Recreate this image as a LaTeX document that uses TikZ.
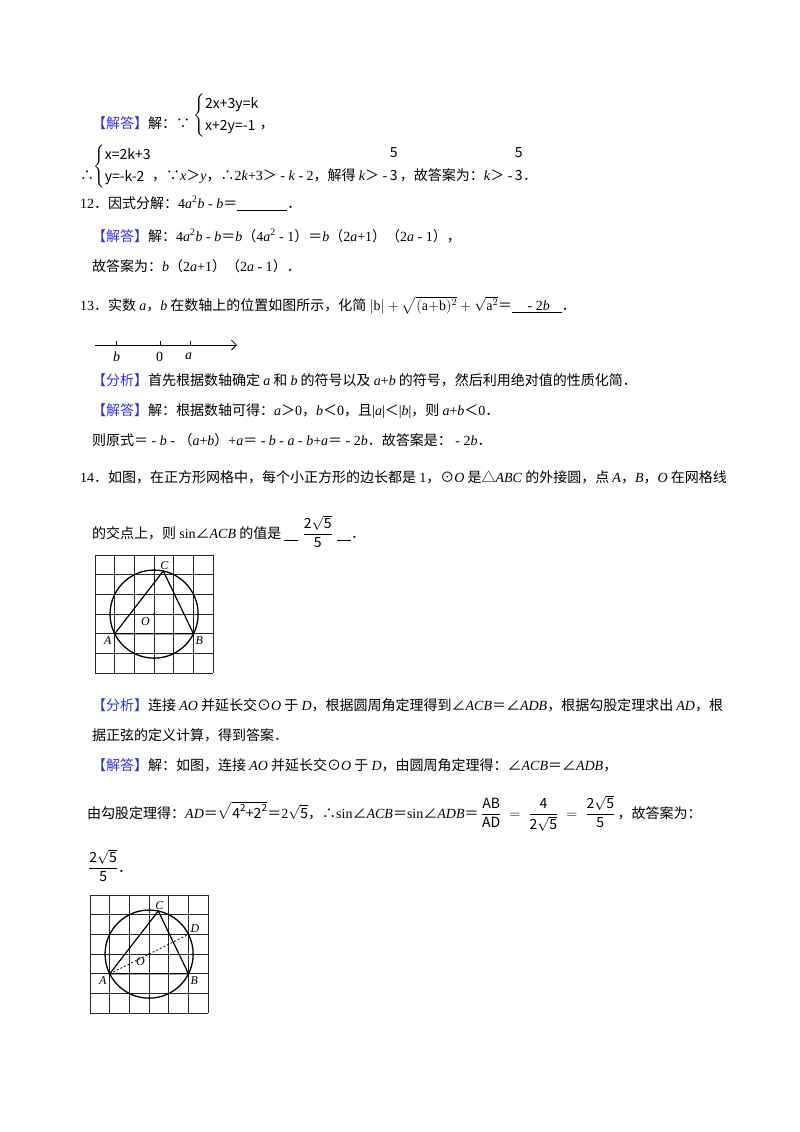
\documentclass[tikz,border=0pt]{standalone}
\usepackage{amsmath}
\usepackage{fontspec}
\setmainfont{Liberation Serif}
\newfontfamily\cjk{Noto Sans CJK SC}
\definecolor{jblue}{RGB}{50,50,230}
\newcommand\z[1]{{\cjk #1}}
\newcommand\jd{{\color{jblue}\cjk 【解答】}}
\newcommand\fx{{\color{jblue}\cjk 【分析】}}
\newcommand\iv[1]{\textit{#1}}
\usetikzlibrary{arrows.meta}
\begin{document}
\begin{tikzpicture}[x=1pt,y=-1pt,
  txt/.style={anchor=base west,inner sep=0pt,font=\fontsize{14}{17}\selectfont},
  sys/.style={anchor=west,inner sep=0pt,font=\fontsize{14}{17}\selectfont},
  gridl/.style={line width=0.7pt,black!85},
  circ/.style={line width=1.3pt},
  seg/.style={line width=1.2pt},
  lab/.style={font=\fontsize{12}{14}\selectfont\itshape,inner sep=1pt}]
\useasboundingbox[fill=white] (0,0) rectangle (800,1132);

% problem 11 answer
\node[txt] (l1) at (92,128) {\jd\z{解：∵}};
\node[sys] (s1) at ([xshift=3pt]l1.east |- 0,116) {$\left\{\begin{tabular}{@{}l@{}}\cjk 2x+3y=k\\[5pt]\cjk x+2y=-1\end{tabular}\right.$};
\node[txt] (c1) at (s1.east |- 0,128) {\z{，}};
\node[txt] (th) at (80,180) {\z{∴}};
\node[sys] (s2) at (93,167) {$\left\{\begin{tabular}{@{}l@{}}\cjk x=2k+3\\[5pt]\cjk y=-k-2\end{tabular}\right.$};
\node[txt] (l2a) at (s2.east |- 0,180) {\z{，∵}\iv{x}\z{＞}\iv{y}\z{，∴}2\iv{k}+3\z{＞} - \iv{k} - 2\z{，解得 }\iv{k}\z{＞} - };
\node[txt] (f1) at ([xshift=2pt]l2a.base east) {\shortstack{\z{5}\\[9pt]\z{3}}};
\node[txt] (l2b) at ([xshift=2pt]f1.base east) {\z{，故答案为：}\iv{k}\z{＞} - };
\node[txt] (f2) at ([xshift=2pt]l2b.base east) {\shortstack{\z{5}\\[9pt]\z{3}}};
\node[txt] (l2c) at (f2.base east) {\z{．}};

% problem 12
\node[txt] (p12) at (80,208) {12\z{．因式分解：}4\iv{a}\textsuperscript{2}\iv{b} - \iv{b}\z{＝}\underline{\hspace{50pt}}\z{．}};
\node[txt] (p12a) at (92,241) {\jd\z{解：}4\iv{a}\textsuperscript{2}\iv{b} - \iv{b}\z{＝}\iv{b}\z{（}4\iv{a}\textsuperscript{2} - 1\z{）＝}\iv{b}\z{（}2\iv{a}+1\z{）（}2\iv{a} - 1\z{），}};
\node[txt] (p12b) at (92,271) {\z{故答案为：}\iv{b}\z{（}2\iv{a}+1\z{）（}2\iv{a} - 1\z{）．}};

% problem 13
\node[txt] (p13) at (80,310) {13\z{．实数 }\iv{a}\z{，}\iv{b}\z{ 在数轴上的位置如图所示，化简 }$|\mathrm{b}|+\sqrt{(\mathrm{a{+}b})^2}+\sqrt{\mathrm{a}^2}$\z{＝}\underline{\hspace{12pt} - 2\iv{b}\hspace{12pt}}\z{．}};
\coordinate (nl0) at (95,345);
\coordinate (nl1) at (237,345);
\draw[line width=0.8pt,-{Straight Barb[length=5pt]}] (nl0) -- (nl1);
\foreach \xx in {116,160,190}{
  \draw[line width=0.7pt] (\xx,341) -- (\xx,345);
}
\node[txt] (lb) at (113,361) {\iv{b}};
\node[txt] (l0) at (156,361) {0};
\node[txt] (la) at (185,359) {\iv{a}};
\node[txt] (p13a) at (92,385) {\fx\z{首先根据数轴确定 }\iv{a}\z{ 和 }\iv{b}\z{ 的符号以及 }\iv{a}+\iv{b}\z{ 的符号，然后利用绝对值的性质化简．}};
\node[txt] (p13b) at (92,415) {\jd\z{解：根据数轴可得：}\iv{a}\z{＞}0\z{，}\iv{b}\z{＜}0\z{，且}|\iv{a}|\z{＜}|\iv{b}|\z{，则 }\iv{a}+\iv{b}\z{＜}0\z{．}};
\node[txt] (p13c) at (92,445) {\z{则原式＝} - \iv{b} - \z{（}\iv{a}+\iv{b}\z{）}+\iv{a}\z{＝} - \iv{b} - \iv{a} - \iv{b}+\iv{a}\z{＝} - 2\iv{b}\z{．故答案是：} - 2\iv{b}\z{．}};

% problem 14
\node[txt] (p14) at (80,482) {14\z{．如图，在正方形网格中，每个小正方形的边长都是 }1\z{，⊙}\iv{O}\z{ 是△}\iv{ABC}\z{ 的外接圆，点 }\iv{A}\z{，}\iv{B}\z{，}\iv{O}\z{ 在网格线}};
\node[txt] (p14b) at (92,538) {\z{的交点上，则 }sin\z{∠}\iv{ACB}\z{ 的值是 }\underline{\hspace{14pt}}};
\node[txt] (fr14) at ([xshift=4pt]p14b.base east) {$\dfrac{\text{\z{2}}\sqrt{\text{\z{5}}}}{\text{\z{5}}}$};
\node[txt] (p14c) at ([xshift=4pt]fr14.base east) {\underline{\hspace{14pt}}\z{．}};

% figure 1
\begin{scope}[shift={(95,555)}]
  \def\c{19.7}
  \foreach \i in {0,...,6}{
    \draw[gridl] (\i*\c,0) -- (\i*\c,6*\c);
    \draw[gridl] (0,\i*\c) -- (6*\c,\i*\c);
  }
  \coordinate (O1) at (3*\c,3*\c);
  \coordinate (A1) at (1*\c,4*\c);
  \coordinate (B1) at (5*\c,4*\c);
  \coordinate (C1) at ({3*\c+2.236*\c*cos(78)},{3*\c-2.236*\c*sin(78)});
  \draw[circ] (O1) circle[radius=2.236*\c];
  \draw[seg] (A1) -- (C1) -- (B1) -- cycle;
  \fill (O1) circle[radius=1.4pt];
  \node[lab,anchor=south west] (lC1) at ([xshift=-4pt]C1) {C};
  \node[lab,anchor=north east] (lO1) at ([xshift=-3pt,yshift=-2pt]O1) {O};
  \node[lab,anchor=north east] (lA1) at ([xshift=-2pt,yshift=-2pt]A1) {A};
  \node[lab,anchor=north west] (lB1) at ([xshift=1pt,yshift=-2pt]B1) {B};
\end{scope}

\node[txt] (p14d) at (92,710) {\fx\z{连接 }\iv{AO}\z{ 并延长交⊙}\iv{O}\z{ 于 }\iv{D}\z{，根据圆周角定理得到∠}\iv{ACB}\z{＝∠}\iv{ADB}\z{，根据勾股定理求出 }\iv{AD}\z{，根}};
\node[txt] (p14e) at (92,740) {\z{据正弦的定义计算，得到答案．}};
\node[txt] (p14f) at (92,770) {\jd\z{解：如图，连接 }\iv{AO}\z{ 并延长交⊙}\iv{O}\z{ 于 }\iv{D}\z{，由圆周角定理得：∠}\iv{ACB}\z{＝∠}\iv{ADB}\z{，}};
\node[txt] (p14g) at (87,818) {\z{由勾股定理得：}\iv{AD}\z{＝}$\sqrt{\text{\z{4}}^{\text{\z{2}}}\text{\z{+}}\text{\z{2}}^{\text{\z{2}}}}$\z{＝}2$\sqrt{\text{\z{5}}}$\z{，∴}sin\z{∠}\iv{ACB}\z{＝}sin\z{∠}\iv{ADB}\z{＝}$\,\dfrac{\text{\z{AB}}}{\text{\z{AD}}}\;=\;\dfrac{\text{\z{4}}}{\text{\z{2}}\sqrt{\text{\z{5}}}}\;=\;\dfrac{\text{\z{2}}\sqrt{\text{\z{5}}}}{\text{\z{5}}}\,$\z{，故答案为：}};
\node[txt] (p14h) at (88,872) {$\dfrac{\text{\z{2}}\sqrt{\text{\z{5}}}}{\text{\z{5}}}$\z{．}};

% figure 2
\begin{scope}[shift={(90,895)}]
  \def\c{19.7}
  \foreach \i in {0,...,6}{
    \draw[gridl] (\i*\c,0) -- (\i*\c,6*\c);
    \draw[gridl] (0,\i*\c) -- (6*\c,\i*\c);
  }
  \coordinate (O2) at (3*\c,3*\c);
  \coordinate (A2) at (1*\c,4*\c);
  \coordinate (B2) at (5*\c,4*\c);
  \coordinate (D2) at (5*\c,2*\c);
  \coordinate (C2) at ({3*\c+2.236*\c*cos(78)},{3*\c-2.236*\c*sin(78)});
  \draw[circ] (O2) circle[radius=2.236*\c];
  \draw[seg] (A2) -- (C2) -- (B2) -- cycle;
  \draw[line width=0.8pt,dashed,dash pattern=on 2pt off 2pt] (A2) -- (D2);
  \fill (O2) circle[radius=1.4pt];
  \node[lab,anchor=south west] (lC2) at ([xshift=-4pt]C2) {C};
  \node[lab,anchor=north east] (lO2) at ([xshift=-3pt,yshift=-2pt]O2) {O};
  \node[lab,anchor=north east] (lA2) at ([xshift=-2pt,yshift=-2pt]A2) {A};
  \node[lab,anchor=north west] (lB2) at ([xshift=1pt,yshift=-2pt]B2) {B};
  \node[lab,anchor=south west] (lD2) at ([xshift=1pt,yshift=1pt]D2) {D};
\end{scope}
\end{tikzpicture}
\end{document}
